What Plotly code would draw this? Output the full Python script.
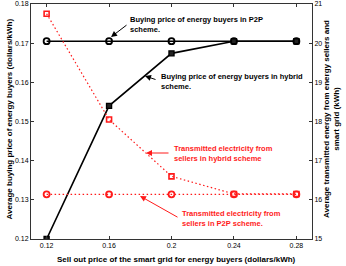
import plotly.graph_objects as go

x_price = [0.12, 0.16, 0.20, 0.24, 0.28]
price_p2p = [0.1705, 0.1705, 0.1705, 0.1705, 0.1705]
price_hybrid = [0.1200, 0.1540, 0.1674, 0.1705, 0.1705]
energy_hybrid = [20.75, 18.05, 16.60, 16.15, 16.15]
energy_p2p = [16.14, 16.14, 16.14, 16.14, 16.14]

x_ticks = [0.12, 0.16, 0.2, 0.24, 0.28]
x_ticklabels = ["0.12", "0.16", "0.2", "0.24", "0.28"]
y_ticks = [0.12, 0.13, 0.14, 0.15, 0.16, 0.17, 0.18]
y_ticklabels = ["0.12", "0.13", "0.14", "0.15", "0.16", "0.17", "0.18"]
y2_ticks = [15, 16, 17, 18, 19, 20, 21]

FONT = "Liberation Sans, Arial, sans-serif"
RED = "#ff1a1a"
DOT = "1.5px,2.5px"

fig = go.Figure()
fig.add_trace(go.Scatter(x=x_price, y=energy_hybrid, yaxis="y2", mode="lines+markers",
                         line=dict(color=RED, width=1.2, dash=DOT),
                         marker=dict(symbol="square-open", size=5, color=RED, line=dict(width=1.6))))
fig.add_trace(go.Scatter(x=x_price, y=energy_p2p, yaxis="y2", mode="lines+markers",
                         line=dict(color=RED, width=1.2, dash=DOT),
                         marker=dict(symbol="circle-open", size=6, color=RED, line=dict(width=1.8))))
fig.add_trace(go.Scatter(x=x_price, y=price_p2p, mode="lines+markers",
                         line=dict(color="black", width=1.6),
                         marker=dict(symbol="circle-open", size=6, color="black", line=dict(width=1.8))))
fig.add_trace(go.Scatter(x=x_price, y=price_hybrid, mode="lines+markers",
                         line=dict(color="black", width=1.6),
                         marker=dict(symbol="square", size=5, color="#222",
                                     line=dict(width=1.4, color="black"))))

L, R, T, B = 31, 34, 4, 27
W, H = 346, 266
PW, PH = W - L - R, H - T - B


def px(xp, yp):
    return (xp - L) / PW, (H - B - yp) / PH


annots = []


def text(xp, yp, s, color, size=7.5, angle=0, xanchor="left", align="left"):
    xx, yy = px(xp, yp)
    annots.append(dict(x=xx, y=yy, xref="paper", yref="paper", text=s, showarrow=False,
                       xanchor=xanchor, yanchor="middle", align=align, textangle=angle,
                       font=dict(family=FONT, size=size, color=color)))


def arrow(hx, hy, tx, ty, color):
    xx, yy = px(hx, hy)
    annots.append(dict(x=xx, y=yy, xref="paper", yref="paper", text="", showarrow=True,
                       ax=tx - hx, ay=ty - hy, arrowhead=2, arrowsize=1.2, arrowwidth=1,
                       arrowcolor=color))


text(128, 24.5, "<b>Buying price of energy buyers in P2P<br>scheme.</b>", "black")
arrow(111, 37, 128, 24, "black")
text(159, 81, "<b>Buying price of energy buyers in hybrid<br>scheme.</b>", "black")
arrow(145, 76, 157, 80, "black")
text(172, 153, "<b>Transmitted electricity from<br>sellers in hybrid scheme</b>", RED)
arrow(146, 153, 170, 153, RED)
text(180, 218, "<b>Transmitted electricity from<br>sellers in P2P scheme.</b>", RED)
arrow(140, 196, 179, 218, RED)

# axis titles
text(176, 259, "<b>Sell out price of the smart grid for energy buyers (dollars/kWh)</b>", "black",
     size=8, xanchor="center", align="center")
text(8.5, 119, "<b>Average buying price of energy buyers (dollars/kWh)</b>", "black",
     size=8, angle=-90, xanchor="center", align="center")
text(331, 119, "<b>Average transmitted energy from energy sellers and<br>smart grid (kWh)</b>", "black",
     size=8, angle=-90, xanchor="center", align="center")

axis_common = dict(showline=True, linecolor="#333", linewidth=1, ticks="inside", ticklen=3,
                   tickcolor="#333", showgrid=False, zeroline=False, automargin=False,
                   tickfont=dict(family=FONT, size=7, color="black"))

fig.update_layout(
    template="none",
    width=W, height=H, margin=dict(l=L, r=R, t=T, b=B, autoexpand=False),
    paper_bgcolor="white", plot_bgcolor="white", showlegend=False,
    xaxis=dict(range=[0.11, 0.29], tickvals=x_ticks, ticktext=x_ticklabels, mirror="ticks",
               **axis_common),
    yaxis=dict(range=[0.12, 0.18], tickvals=y_ticks, ticktext=y_ticklabels, **axis_common),
    yaxis2=dict(range=[15, 21], tickvals=y2_ticks, overlaying="y", side="right", **axis_common),
    annotations=annots,
)

fig.write_html("out.html", config={"displayModeBar": False},
               post_script="document.body.style.margin='0';document.body.style.overflow='hidden';")
